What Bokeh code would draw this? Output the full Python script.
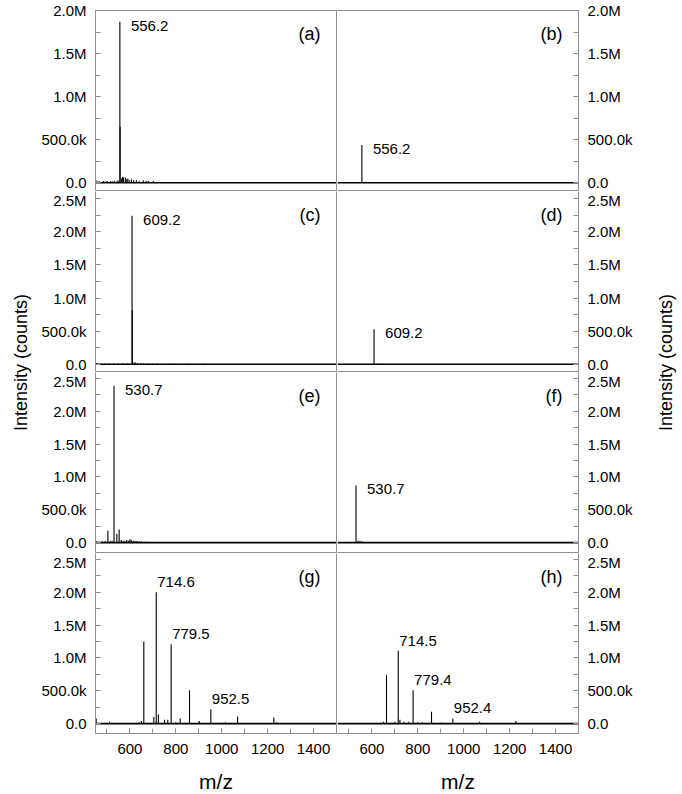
import math
from bokeh.plotting import figure
from bokeh.layouts import row, column
from bokeh.models import FixedTicker, LinearAxis, Range1d, Label
from bokeh.embed import file_html
from bokeh.resources import INLINE
from bokeh.core.properties import value

# ---------------- data (m/z, intensity in counts) ----------------
mz_a = [452, 458, 466, 475, 484, 492, 500, 508, 516, 524, 532, 540, 548, 556.2, 557.2, 563, 568,
        572, 580, 586, 591, 597, 606, 616, 628, 640, 658, 670, 680, 702, 730, 760, 790, 825]
int_a = [3e4, 1.5e4, 2e4, 1e4, 2e4, 1.5e4, 2e4, 1e4, 2e4, 1.5e4, 2e4, 1.5e4, 3e4, 1.87e6, 6.5e5, 5e4, 7e4,
         6e4, 6e4, 4e4, 5e4, 3e4, 4e4, 3e4, 3e4, 2e4, 3e4, 2e4, 2e4, 2e4, 1e4, 1e4, 8e3, 8e3]
ann_a = ["556.2"]

mz_b = [480, 520, 556.2, 565, 575, 590, 605, 620, 640, 660, 700, 740, 800, 850]
int_b = [5e3, 5e3, 4.4e5, 1e4, 1.2e4, 1e4, 1e4, 8e3, 8e3, 8e3, 6e3, 6e3, 5e3, 5e3]
ann_b = ["556.2"]

mz_c = [455, 470, 490, 510, 530, 550, 570, 590, 609.2, 610.2, 618, 625, 635, 648, 660, 680, 700,
        720, 790, 850, 920]
int_c = [2e4, 1e4, 1e4, 1.2e4, 1e4, 1.2e4, 1e4, 1.5e4, 2.245e6, 8.2e5, 3e4, 2.5e4, 2e4, 1.5e4, 1.5e4,
         1.2e4, 1e4, 1e4, 8e3, 8e3, 6e3]
ann_c = ["609.2"]

mz_d = [560, 609.2, 640, 700, 780]
int_d = [5e3, 5.3e5, 6e3, 5e3, 5e3]
ann_d = ["609.2"]

mz_e = [455, 465, 480, 492, 504, 515, 522, 530.7, 543, 553, 562, 570, 578, 586, 594, 600, 606, 614,
        622, 630, 640, 650, 662, 675, 690, 710, 740, 770, 800]
int_e = [2e4, 1.5e4, 2e4, 2e4, 1.8e5, 2e4, 3e4, 2.39e6, 1.3e5, 2e5, 4e4, 3e4, 3e4, 4e4, 3e4, 5e4,
         4e4, 3e4, 3e4, 2.5e4, 2e4, 2e4, 1.5e4, 1.5e4, 1e4, 1e4, 8e3, 8e3, 6e3]
ann_e = ["530.7"]

mz_f = [500, 520, 530.7, 540, 548, 556, 570, 590, 620, 660, 720]
int_f = [1e4, 1e4, 8.7e5, 3e4, 2e4, 2e4, 1e4, 1e4, 8e3, 6e3, 5e3]
ann_f = ["530.7"]

mz_g = [453, 511, 560, 610, 640, 650, 660.5, 704, 714.6, 724, 751, 765, 779.5, 800, 819, 859.6,
        902, 952.5, 1000, 1016, 1069, 1100, 1150, 1227, 1240, 1300, 1420, 1440]
int_g = [8e4, 3e4, 1e4, 1e4, 2e4, 4e4, 1.25e6, 1e5, 2.0e6, 1.4e5, 6e4, 6e4, 1.21e6, 2e4, 8e4, 5.1e5,
         4e4, 2.2e5, 1.5e4, 2e4, 1.1e5, 1e4, 1e4, 9.5e4, 2e4, 1e4, 1e4, 1e4]
ann_g = ["714.6", "779.5", "952.5"]

mz_h = [500, 600, 640, 650, 663.5, 700, 714.5, 722, 740, 760, 779.4, 800, 820, 859.6, 900, 952.4,
        1000, 1069, 1150, 1227, 1300]
int_h = [1e4, 1e4, 1.5e4, 3e4, 7.4e5, 3e4, 1.11e6, 6e4, 3e4, 3e4, 5.1e5, 2e4, 2e4, 1.8e5, 1.5e4, 8e4,
         1e4, 3e4, 1e4, 4e4, 1e4]
ann_h = ["714.5", "779.4", "952.4"]

baseline_mz = [450, 1500]
baseline_int = [0, 0]

x_limits = (450, 1500)
x_ticks = [600, 800, 1000, 1200, 1400]
x_minor = [500, 600, 700, 800, 900, 1000, 1100, 1200, 1300, 1400, 1500]

y_ticks_20 = [0, 500000, 1000000, 1500000, 2000000]
y_labels_20 = ["0.0", "500.0k", "1.0M", "1.5M", "2.0M"]
y_ticks_25 = [0, 500000, 1000000, 1500000, 2000000, 2500000]
y_labels_25 = ["0.0", "500.0k", "1.0M", "1.5M", "2.0M", "2.5M"]
y_minor = [0, 250000, 500000, 750000, 1000000, 1250000, 1500000, 1750000, 2000000, 2250000, 2500000]

y_limits = [(-0.09e6, 2.001e6), (-0.11e6, 2.61e6), (-0.15e6, 2.59e6), (-0.15e6, 2.59e6)]

letters = [["(a)", "(b)"], ["(c)", "(d)"], ["(e)", "(f)"], ["(g)", "(h)"]]
series = [[(mz_a, int_a, ann_a), (mz_b, int_b, ann_b)],
          [(mz_c, int_c, ann_c), (mz_d, int_d, ann_d)],
          [(mz_e, int_e, ann_e), (mz_f, int_f, ann_f)],
          [(mz_g, int_g, ann_g), (mz_h, int_h, ann_h)]]

y_title = "Intensity (counts)"
x_title = "m/z"

# ---------------- style ----------------
FONT = "Liberation Sans"
GRAY = "#8f8f8f"
FW, FH = 241, 180
TOP_B, BOT_B = 10, 61
TOTAL_H = TOP_B + 4 * FH + 3 + BOT_B
LBL_STYLE = [dict(x_offset=11, y_offset=4, baseline="middle")] * 3 + \
            [dict(x_offset=1, y_offset=-5, baseline="bottom")]


def line_only_axis(ax):
    ax.ticker = FixedTicker(ticks=[])
    ax.major_label_text_font_size = "0px"
    ax.major_label_standoff = 0
    ax.major_tick_in = 0
    ax.major_tick_out = 0
    ax.minor_tick_in = 0
    ax.minor_tick_out = 0
    ax.axis_line_color = GRAY


def make_panel(r, c):
    mz, inten, ann = series[r][c]
    top = r == 0
    bottom = r == 3
    p = figure(frame_width=FW, frame_height=FH,
               x_range=Range1d(*x_limits), y_range=Range1d(*y_limits[r]),
               output_backend="svg", toolbar_location=None, tools="",
               y_axis_location="left" if c == 0 else "right",
               x_axis_location="below",
               min_border_left=57 if c == 0 else 0,
               min_border_right=1 if c == 0 else 62,
               min_border_top=TOP_B if top else 0,
               min_border_bottom=BOT_B if bottom else 1,
               outline_line_color=None,
               background_fill_color="white", border_fill_color="white")
    p.grid.visible = False

    # y axis
    yt = y_ticks_20 if r == 0 else y_ticks_25
    yl = y_labels_20 if r == 0 else y_labels_25
    yax = p.yaxis[0]
    yax.ticker = FixedTicker(ticks=yt, minor_ticks=y_minor)
    yax.major_label_overrides = {t: l for t, l in zip(yt, yl)}
    yax.major_tick_in = 5
    yax.major_tick_out = 0
    yax.minor_tick_in = 5
    yax.minor_tick_out = 0
    yax.axis_line_color = GRAY
    yax.major_tick_line_color = GRAY
    yax.minor_tick_line_color = GRAY
    yax.major_label_text_font = FONT
    yax.major_label_text_font_size = "15px"
    yax.major_label_text_color = "black"
    yax.major_label_standoff = 9

    # x axis
    xax = p.xaxis[0]
    if bottom:
        xax.ticker = FixedTicker(ticks=x_ticks, minor_ticks=x_minor)
        xax.major_tick_in = 5
        xax.major_tick_out = 0
        xax.minor_tick_in = 5
        xax.minor_tick_out = 0
        xax.axis_line_color = GRAY
        xax.major_tick_line_color = GRAY
        xax.minor_tick_line_color = GRAY
        xax.major_label_text_font = FONT
        xax.major_label_text_font_size = "15px"
        xax.major_label_text_color = "black"
        xax.major_label_standoff = 10
        xax.axis_label = x_title
        xax.axis_label_text_font = FONT
        xax.axis_label_text_font_size = "21px"
        xax.axis_label_text_font_style = "normal"
        xax.axis_label_text_color = "black"
        xax.axis_label_standoff = 13
    else:
        line_only_axis(xax)

    if top:
        ab = LinearAxis()
        line_only_axis(ab)
        p.add_layout(ab, "above")
    if c == 0:
        mid = LinearAxis()
        line_only_axis(mid)
        p.add_layout(mid, "right")

    # spectrum
    p.line(baseline_mz, baseline_int, line_color="black", line_width=1.6)
    p.segment(x0=mz, y0=[0] * len(mz), x1=mz, y1=inten, line_color="black", line_width=1.1)

    # peak labels
    st = LBL_STYLE[r]
    ann_x = [float(a) for a in ann]
    ann_y = [inten[mz.index(float(a))] for a in ann]
    p.text(x=ann_x, y=ann_y, text=ann, x_offset=st["x_offset"], y_offset=st["y_offset"],
           text_font=value(FONT), text_font_size="15px", text_color="black",
           text_align="left", text_baseline=st["baseline"])

    p.add_layout(Label(x=FW - 16, y=FH - 23, x_units="screen", y_units="screen",
                       text=letters[r][c], text_align="right", text_baseline="middle",
                       text_font=FONT, text_font_size="18px", text_color="black"))
    return p


def side_fig(width, xc):
    f = figure(width=width, height=TOTAL_H, output_backend="svg", toolbar_location=None, tools="",
               x_axis_location=None, y_axis_location=None, min_border=0,
               outline_line_color=None, x_range=Range1d(0, 1), y_range=Range1d(0, 1),
               background_fill_color="white", border_fill_color="white")
    f.grid.visible = False
    f.add_layout(Label(x=xc, y=TOTAL_H - 362, x_units="screen", y_units="screen",
                       text=y_title, angle=math.pi / 2, text_align="center", text_baseline="middle",
                       text_font=FONT, text_font_size="18px", text_color="black"))
    return f


rows = [row(make_panel(r, 0), make_panel(r, 1)) for r in range(4)]
grid = column(*rows)
left_lbl = side_fig(38, 20)
right_lbl = side_fig(40, 25)
layout = row(left_lbl, grid, right_lbl)

open("out.html", "w").write(file_html(layout, INLINE))
